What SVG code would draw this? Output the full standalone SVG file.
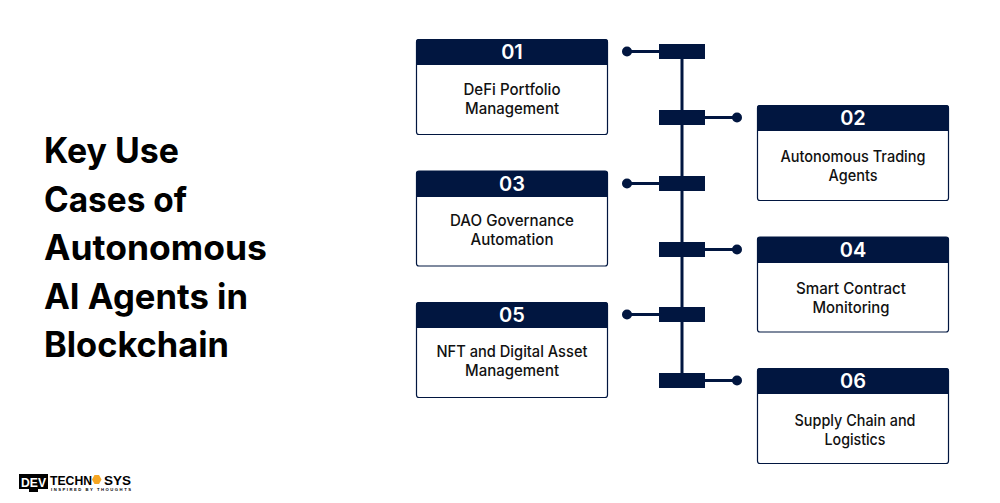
<svg xmlns="http://www.w3.org/2000/svg" width="1000" height="503" viewBox="0 0 1000 503">
<style>
text{font-family:"Lato","Liberation Sans",sans-serif}
.t{font-family:"Inter","Liberation Sans",sans-serif;font-size:35px;font-weight:700;fill:#000}
.b{fill:#fff;stroke:#011640;stroke-width:1.2}
.h{fill:#011640}
.n{font-size:20px;font-weight:600;fill:#fff;text-anchor:middle;font-family:"Inter","Liberation Sans",sans-serif}
.l{font-size:15.5px;font-weight:500;fill:#111;text-anchor:middle;font-family:"Inter","Liberation Sans",sans-serif}
.c{stroke:#011640;stroke-width:3;fill:none}
.d,.r{fill:#011640}
.g{font-family:"Liberation Sans",sans-serif;font-weight:700}
</style>
<rect width="1000" height="503" fill="#fff"/>
<g id="title">
<text class="t" x="44" y="163" textLength="135" lengthAdjust="spacingAndGlyphs">Key Use</text>
<text class="t" x="44" y="212" textLength="143" lengthAdjust="spacingAndGlyphs">Cases of</text>
<text class="t" x="44" y="260" textLength="223" lengthAdjust="spacingAndGlyphs">Autonomous</text>
<text class="t" x="44" y="309" textLength="204" lengthAdjust="spacingAndGlyphs">AI Agents in</text>
<text class="t" x="44" y="357" textLength="185" lengthAdjust="spacingAndGlyphs">Blockchain</text>
</g>
<g id="connectors">
<path class="c" d="M682 51V380"/>
<path class="c" d="M627 51.5H660M705 117.5H737M627 183.5H660M705 249.5H737M627 314.5H660M705 380.5H737"/>
<circle class="d" cx="627" cy="51.5" r="5"/><circle class="d" cx="737" cy="117.5" r="5"/><circle class="d" cx="627" cy="183.5" r="5"/><circle class="d" cx="737" cy="249.5" r="5"/><circle class="d" cx="627" cy="314.5" r="5"/><circle class="d" cx="737" cy="380.5" r="5"/>
<rect class="r" x="659" y="44" width="46" height="15"/><rect class="r" x="659" y="110" width="46" height="15"/><rect class="r" x="659" y="176" width="46" height="15"/><rect class="r" x="659" y="242" width="46" height="15"/><rect class="r" x="659" y="307" width="46" height="15"/><rect class="r" x="659" y="373" width="46" height="15"/>
</g>
<g id="node1"><rect class="b" x="416.5" y="39.5" width="191" height="95" rx="2.5"/><path class="h" d="M416 65V42q0-3 3-3h186q3 0 3 3V65Z"/><text class="n" x="512" y="59">01</text><text class="l" x="512" y="95" textLength="97" lengthAdjust="spacingAndGlyphs">DeFi Portfolio</text><text class="l" x="512" y="114" textLength="94" lengthAdjust="spacingAndGlyphs">Management</text></g>
<g id="node2"><rect class="b" x="757.5" y="105.5" width="191" height="95" rx="2.5"/><path class="h" d="M757 131V108q0-3 3-3h186q3 0 3 3V131Z"/><text class="n" x="853" y="125">02</text><text class="l" x="853" y="162" textLength="145" lengthAdjust="spacingAndGlyphs">Autonomous Trading</text><text class="l" x="853" y="181" textLength="49" lengthAdjust="spacingAndGlyphs">Agents</text></g>
<g id="node3"><rect class="b" x="416.5" y="171" width="191" height="95" rx="2.5"/><path class="h" d="M416 197V174q0-3 3-3h186q3 0 3 3V197Z"/><text class="n" x="512" y="191">03</text><text class="l" x="512" y="226" textLength="124" lengthAdjust="spacingAndGlyphs">DAO Governance</text><text class="l" x="512" y="245" textLength="83" lengthAdjust="spacingAndGlyphs">Automation</text></g>
<g id="node4"><rect class="b" x="757.5" y="237" width="191" height="95" rx="2.5"/><path class="h" d="M757 263V240q0-3 3-3h186q3 0 3 3V263Z"/><text class="n" x="853" y="257">04</text><text class="l" x="851" y="294" textLength="110" lengthAdjust="spacingAndGlyphs">Smart Contract</text><text class="l" x="851" y="313" textLength="77" lengthAdjust="spacingAndGlyphs">Monitoring</text></g>
<g id="node5"><rect class="b" x="416.5" y="302.5" width="191" height="95" rx="2.5"/><path class="h" d="M416 328V305q0-3 3-3h186q3 0 3 3V328Z"/><text class="n" x="512" y="322">05</text><text class="l" x="512" y="357" textLength="151" lengthAdjust="spacingAndGlyphs">NFT and Digital Asset</text><text class="l" x="512" y="376" textLength="94" lengthAdjust="spacingAndGlyphs">Management</text></g>
<g id="node6"><rect class="b" x="757.5" y="368.5" width="191" height="95" rx="2.5"/><path class="h" d="M757 394V371q0-3 3-3h186q3 0 3 3V394Z"/><text class="n" x="853" y="388">06</text><text class="l" x="855" y="426" textLength="121" lengthAdjust="spacingAndGlyphs">Supply Chain and</text><text class="l" x="855" y="445" textLength="61" lengthAdjust="spacingAndGlyphs">Logistics</text></g>
<g id="logo">
<rect x="19" y="474" width="29" height="15" fill="#000"/><rect x="29" y="489" width="9" height="3" fill="#000"/>
<text class="g" x="21" y="486.5" font-size="12" fill="#fff" textLength="25" lengthAdjust="spacingAndGlyphs">DEV</text>
<text class="g" x="50" y="484.5" font-size="13" fill="#000" textLength="42" lengthAdjust="spacingAndGlyphs">TECHN</text>
<polygon points="92,479.5 94.5,475 99,475 101.5,479.5 99,484 94.5,484" fill="#f5a623"/>
<text class="g" x="104" y="484.5" font-size="13" fill="#000" textLength="27" lengthAdjust="spacingAndGlyphs">SYS</text>
<text class="g" x="51" y="490.5" font-size="4.2" fill="#000" textLength="80">INSPIRED BY THOUGHTS</text>
</g>
</svg>
